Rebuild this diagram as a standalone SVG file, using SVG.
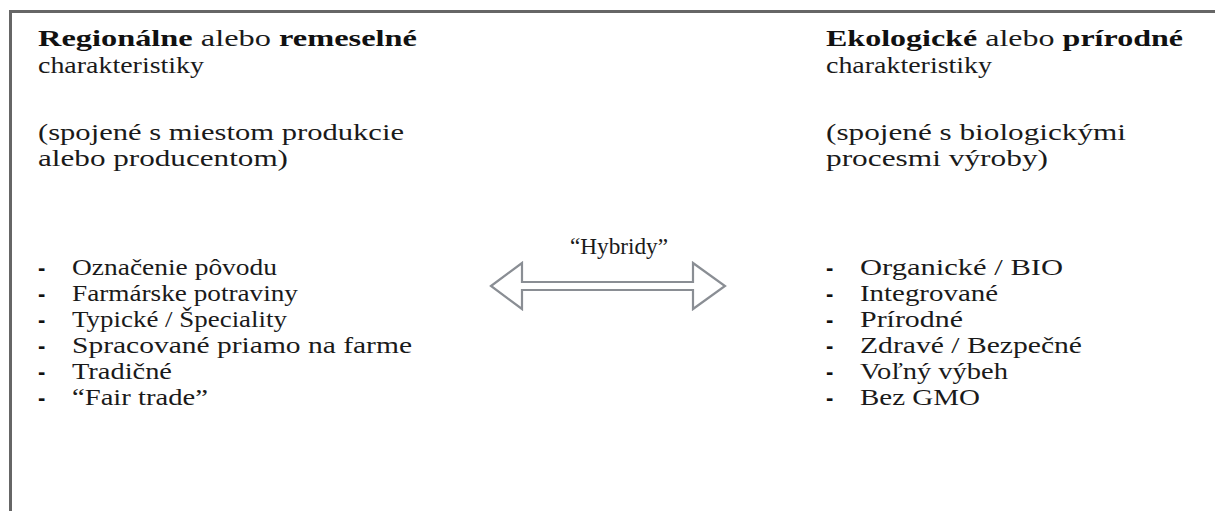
<svg xmlns="http://www.w3.org/2000/svg" width="1215" height="511" viewBox="0 0 1215 511">
  <style>
    .t { font-family: "Liberation Serif", "Times New Roman", serif; font-size: 23.5px; fill: #1a1a1a; }
    .b { font-weight: bold; fill: #111; }
    .d { font-family: "Liberation Sans", Arial, sans-serif; font-size: 22px; font-weight: bold; fill: #111; }
    .frame { fill: none; stroke: #666; stroke-width: 3; }
    .arrow { fill: #fff; stroke: #8a8e94; stroke-width: 2.2; stroke-linejoin: miter; }
  </style>
  <rect width="1215" height="511" fill="#fff"/>
  <!-- outer frame, open to the right and bottom -->
  <rect class="frame" x="10.5" y="11.5" width="1230" height="530"/>

  <g id="regional">
    <text class="t" x="38" y="46" textLength="379" lengthAdjust="spacingAndGlyphs"><tspan class="b">Regionálne</tspan> alebo <tspan class="b">remeselné</tspan></text>
    <text class="t" x="38" y="73" textLength="166" lengthAdjust="spacingAndGlyphs">charakteristiky</text>
    <text class="t" x="38" y="140" textLength="366" lengthAdjust="spacingAndGlyphs">(spojené s miestom produkcie</text>
    <text class="t" x="38" y="166" textLength="250" lengthAdjust="spacingAndGlyphs">alebo producentom)</text>
    <g id="regional-list">
      <text class="d" x="38" y="275">-</text><text class="t" x="72" y="275" textLength="205" lengthAdjust="spacingAndGlyphs">Označenie pôvodu</text>
      <text class="d" x="38" y="301">-</text><text class="t" x="72" y="301" textLength="226" lengthAdjust="spacingAndGlyphs">Farmárske potraviny</text>
      <text class="d" x="38" y="327">-</text><text class="t" x="72" y="327" textLength="215" lengthAdjust="spacingAndGlyphs">Typické / Špeciality</text>
      <text class="d" x="38" y="353">-</text><text class="t" x="72" y="353" textLength="340" lengthAdjust="spacingAndGlyphs">Spracované priamo na farme</text>
      <text class="d" x="38" y="379">-</text><text class="t" x="72" y="379" textLength="100" lengthAdjust="spacingAndGlyphs">Tradičné</text>
      <text class="d" x="38" y="405">-</text><text class="t" x="72" y="405" textLength="136" lengthAdjust="spacingAndGlyphs">“Fair trade”</text>
    </g>
  </g>

  <g id="ecological">
    <text class="t" x="826" y="46" textLength="357" lengthAdjust="spacingAndGlyphs"><tspan class="b">Ekologické</tspan> alebo <tspan class="b">prírodné</tspan></text>
    <text class="t" x="826" y="73" textLength="166" lengthAdjust="spacingAndGlyphs">charakteristiky</text>
    <text class="t" x="826" y="140" textLength="300" lengthAdjust="spacingAndGlyphs">(spojené s biologickými</text>
    <text class="t" x="826" y="166" textLength="222" lengthAdjust="spacingAndGlyphs">procesmi výroby)</text>
    <g id="ecological-list">
      <text class="d" x="826" y="275">-</text><text class="t" x="860" y="275" textLength="203" lengthAdjust="spacingAndGlyphs">Organické / BIO</text>
      <text class="d" x="826" y="301">-</text><text class="t" x="860" y="301" textLength="138" lengthAdjust="spacingAndGlyphs">Integrované</text>
      <text class="d" x="826" y="327">-</text><text class="t" x="860" y="327" textLength="103" lengthAdjust="spacingAndGlyphs">Prírodné</text>
      <text class="d" x="826" y="353">-</text><text class="t" x="860" y="353" textLength="222" lengthAdjust="spacingAndGlyphs">Zdravé / Bezpečné</text>
      <text class="d" x="826" y="379">-</text><text class="t" x="860" y="379" textLength="148" lengthAdjust="spacingAndGlyphs">Voľný výbeh</text>
      <text class="d" x="826" y="405">-</text><text class="t" x="860" y="405" textLength="120" lengthAdjust="spacingAndGlyphs">Bez GMO</text>
    </g>
  </g>

  <g id="connectors">
    <text class="t" x="570" y="254" textLength="98" lengthAdjust="spacingAndGlyphs">“Hybridy”</text>
    <polygon class="arrow" points="491,286 522,263 522,282 693,282 693,263 725,286 693,309 693,290 522,290 522,309"/>
  </g>
</svg>
